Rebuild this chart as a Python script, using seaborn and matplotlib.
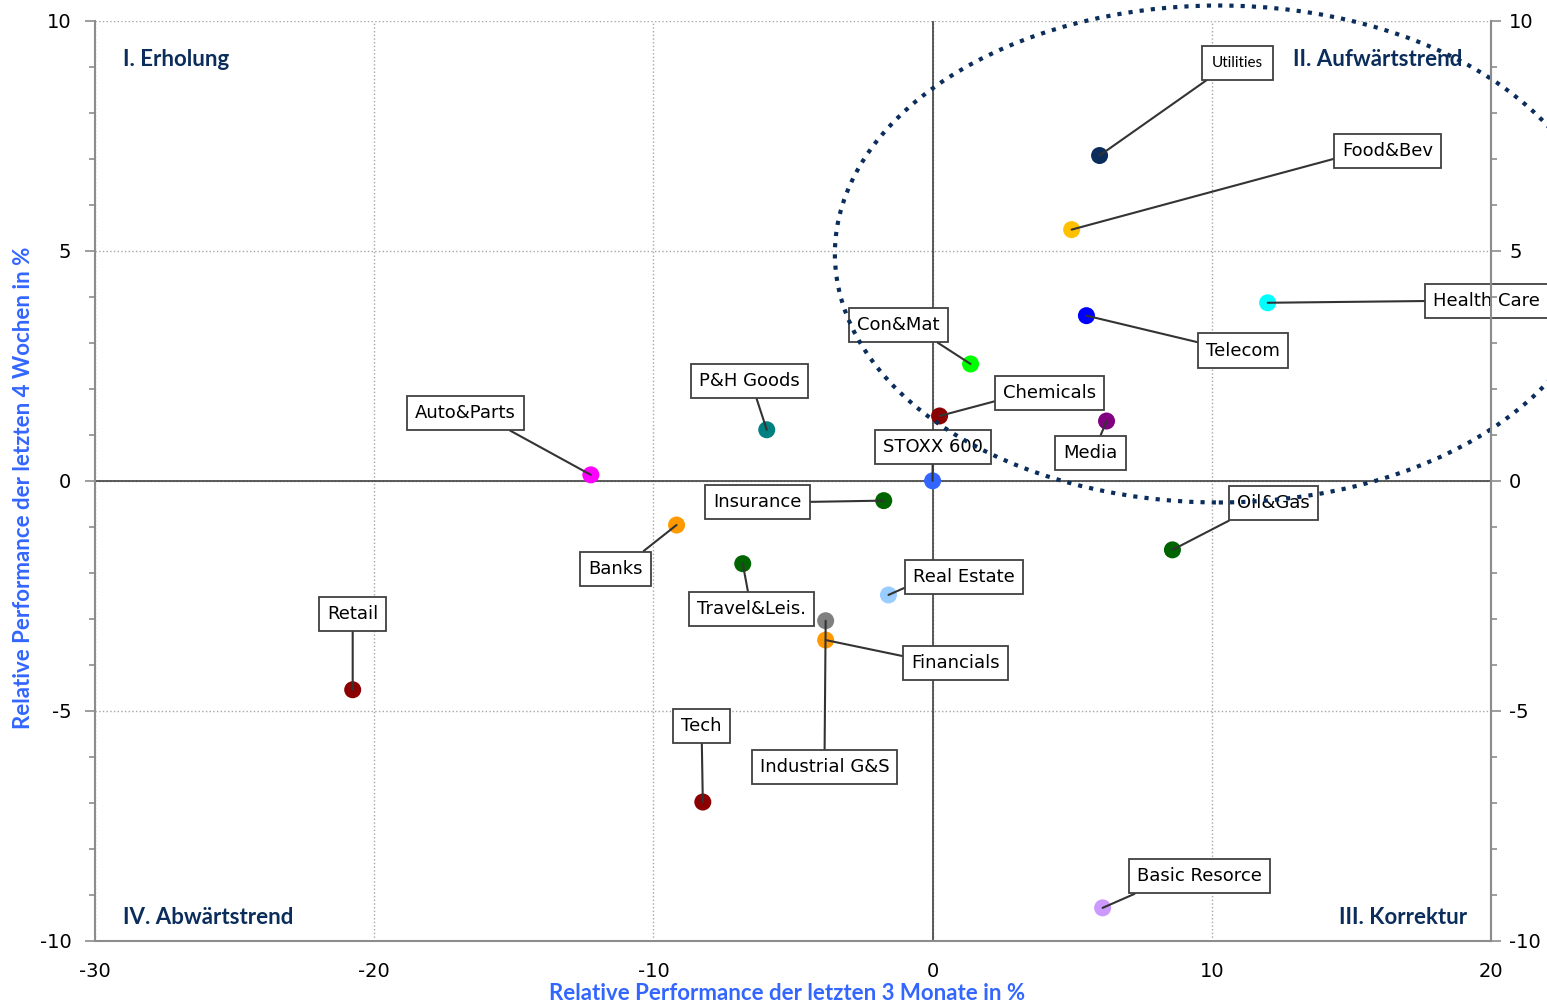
import numpy as np
import pandas as pd
import matplotlib
matplotlib.use('Agg')
import matplotlib.pyplot as plt
import seaborn as sns
from matplotlib.patches import Ellipse
from matplotlib.ticker import MultipleLocator

# ==========================================
# 0. Daten
# ==========================================
sectors = ['Utilities', 'Food&Bev', 'Health Care', 'Telecom', 'Con&Mat', 'Chemicals',
           'Media', 'P&H Goods', 'Auto&Parts', 'STOXX 600', 'Insurance', 'Banks',
           'Oil&Gas', 'Travel&Leis.', 'Real Estate', 'Industrial G&S', 'Financials',
           'Retail', 'Tech', 'Basic Resorce']
perf_3m = [5.98, 4.98, 12.0, 5.51, 1.36, 0.25, 6.23, -5.94, -12.24, 0.0, -1.75, -9.17,
           8.59, -6.80, -1.58, -3.83, -3.83, -20.77, -8.23, 6.09]
perf_4w = [7.07, 5.46, 3.87, 3.59, 2.54, 1.41, 1.30, 1.11, 0.13, 0.0, -0.43, -0.96,
           -1.50, -1.80, -2.48, -3.04, -3.46, -4.54, -6.98, -9.28]
colors = ['#0B2D5B', '#FFC000', '#00FFFF', '#0000FF', '#00FF00', '#8B0000',
          '#800080', '#008080', '#FF00FF', '#3366FF', '#006400', '#FF9900',
          '#006400', '#006400', '#99CCFF', '#808080', '#FF9900',
          '#8B0000', '#8B0000', '#CC99FF']
# Position der Beschriftungskästen
label_x = [10.92, 16.29, 19.85, 11.13, -1.22, 4.19, 5.66, -6.55, -16.72, 0.0, -6.27, -11.35,
           12.21, -6.48, 1.11, -3.87, 0.82, -20.77, -8.27, 9.56]
label_y = [9.09, 7.17, 3.91, 2.83, 3.39, 1.91, 0.61, 2.17, 1.48, 0.74, -0.46, -1.91,
           -0.48, -2.78, -2.09, -6.22, -3.96, -2.89, -5.33, -8.59]
# Anschlusspunkt der Linie am Kasten (relativ)
relpos = [(0.19, 0), (0, 0.18), (0, 0.5), (0, 0.85), (0.81, 0), (0, 0.16),
          (0.62, 1), (0.54, 0), (0.78, 0), (0.5, 0), (1, 0.5), (0.81, 1),
          (0.12, 0), (0.48, 1), (0, 0.1), (0.5, 1), (0, 0.79),
          (0.5, 0), (0.5, 0), (0.14, 0)]

quadrants = ['I. Erholung', 'II. Aufwärtstrend', 'III. Korrektur', 'IV. Abwärtstrend']

df = pd.DataFrame({'Sektor': sectors, 'x': perf_3m, 'y': perf_4w})

# ==========================================
# 1. Stil
# ==========================================
sns.set_theme(style="white")
plt.rcParams['font.family'] = ['DejaVu Sans']
plt.rcParams['axes.unicode_minus'] = False

navy = '#0B2D5B'
axis_gray = '#8C8C8C'

fig = plt.figure(figsize=(15.47, 10.05), dpi=100)
ax = fig.add_axes([0.0614, 0.0637, 0.9024, 0.9157])

ax.set_xlim(-30, 20)
ax.set_ylim(-10, 10)
ax.xaxis.set_major_locator(MultipleLocator(10))
ax.xaxis.set_minor_locator(MultipleLocator(2))
ax.yaxis.set_major_locator(MultipleLocator(5))
ax.yaxis.set_minor_locator(MultipleLocator(1))

ax.grid(True, which='major', color='#A6A6A6', linestyle=':', linewidth=1.0)
ax.spines['top'].set_visible(False)
for s in ['left', 'bottom', 'right']:
    ax.spines[s].set_color(axis_gray)
    ax.spines[s].set_linewidth(1.5)

ax.axhline(0, color='#404040', lw=1.2, zorder=1)
ax.axvline(0, color='#404040', lw=1.2, zorder=1)

ax.tick_params(axis='both', which='major', length=7, width=1.2, color=axis_gray,
               labelsize=14, labelcolor='black', direction='out')
ax.tick_params(axis='both', which='minor', length=4, width=1.2, color=axis_gray,
               direction='out')
ax.tick_params(axis='y', pad=10)
ax.tick_params(axis='x', pad=8)

# rechte Achse
ax2 = ax.twinx()
ax2.set_ylim(-10, 10)
ax2.yaxis.set_major_locator(MultipleLocator(5))
ax2.yaxis.set_minor_locator(MultipleLocator(1))
ax2.tick_params(axis='y', which='major', length=7, width=1.2, color=axis_gray,
                labelsize=14, labelcolor='black', pad=6)
ax2.tick_params(axis='y', which='minor', length=4, width=1.2, color=axis_gray)
for s in ['top', 'left', 'bottom']:
    ax2.spines[s].set_visible(False)
ax2.spines['right'].set_color(axis_gray)
ax2.spines['right'].set_linewidth(1.5)
ax2.grid(False)

# ==========================================
# 2. Punkte und Beschriftungen
# ==========================================
sns.scatterplot(data=df, x='x', y='y', hue='Sektor', palette=dict(zip(sectors, colors)),
                s=150, edgecolor='none', legend=False, ax=ax, zorder=3)

for i, name in enumerate(sectors):
    if name == 'Utilities':
        fam, fs, pad = ['Lato', 'DejaVu Sans'], 11, 0.65
    else:
        fam, fs, pad = ['DejaVu Sans'], 13, 0.45
    ax.annotate(name, xy=(perf_3m[i], perf_4w[i]), xytext=(label_x[i], label_y[i]),
                ha='center', va='center', fontsize=fs, family=fam, color='black',
                bbox=dict(boxstyle=f'square,pad={pad}', fc='white', ec='#404040', lw=1.3),
                arrowprops=dict(arrowstyle='-', color='#333333', lw=1.5,
                                relpos=relpos[i], shrinkA=0, shrinkB=0),
                annotation_clip=False, zorder=5)

# Ellipse um den Aufwärtstrend
ell = Ellipse((10.25, 4.93), 27.5, 10.8, fill=False, ec=navy, lw=3.0,
              linestyle=(0, (1, 1.7)), clip_on=False, zorder=8)
ax.add_patch(ell)

# Quadrantenbeschriftung
qfont = dict(family=['Lato', 'DejaVu Sans'], fontsize=16, fontweight='bold', color=navy, zorder=9)
ax.text(-29.0, 9.15, quadrants[0], ha='left', va='center', **qfont)
ax.text(12.9, 9.15, quadrants[1], ha='left', va='center', **qfont)
ax.text(19.15, -9.5, quadrants[2], ha='right', va='center', **qfont)
ax.text(-29.0, -9.5, quadrants[3], ha='left', va='center', **qfont)

# Achsentitel
lfont = dict(family=['Lato', 'DejaVu Sans'], fontsize=16, fontweight='bold', color='#3366FF')
ax.set_xlabel('Relative Performance der letzten 3 Monate in %', **lfont)
ax.set_ylabel('Relative Performance der letzten 4 Wochen in %', **lfont)
ax.xaxis.set_label_coords(0.496, -0.046)
ax.yaxis.set_label_coords(-0.044, 0.492)

plt.savefig('out.png', dpi=100)
plt.close()
